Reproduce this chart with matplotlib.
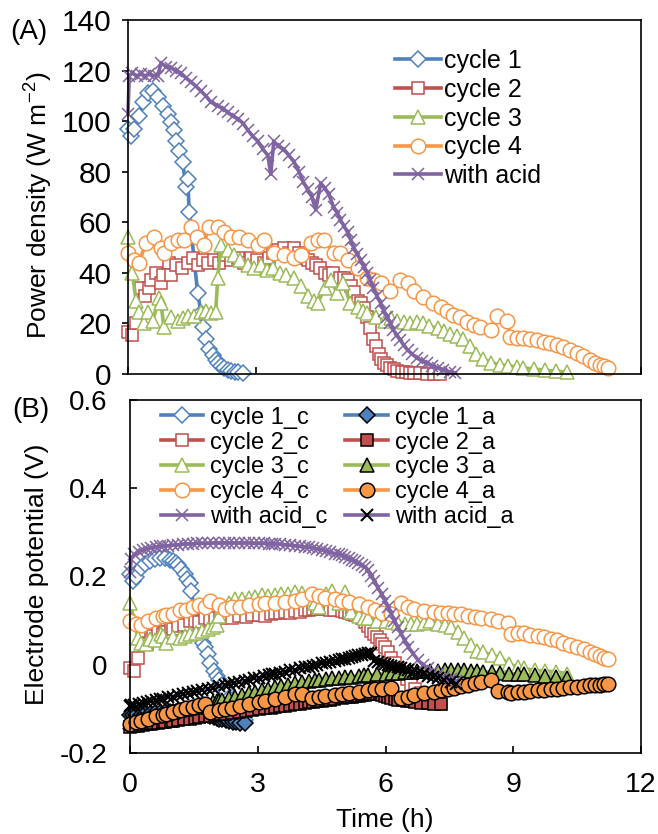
import matplotlib
matplotlib.use('Agg')
import matplotlib.pyplot as plt
from matplotlib.ticker import FuncFormatter

plt.rcParams['font.family'] = ['Liberation Sans', 'DejaVu Sans']
plt.rcParams['mathtext.fontset'] = 'custom'
plt.rcParams['mathtext.rm'] = 'Liberation Sans'

BLUE = '#4F81BD'
RED = '#C0504D'
GREEN = '#9BBB59'
ORANGE = '#F79646'
PURPLE = '#8064A2'

# ---- cycle 1 ----
t1 = [0, 0.07, 0.14, 0.26, 0.35, 0.47, 0.58, 0.70, 0.82, 0.93, 1.0, 1.07, 1.12, 1.19, 1.28, 1.35, 1.40,
      1.43, 1.63, 1.71, 1.75, 1.82, 1.89, 1.98, 2.05, 2.10, 2.17, 2.25, 2.33, 2.42, 2.50, 2.58, 2.69]
p1 = [97, 94, 97, 102, 107.5, 111, 112, 109.5, 106, 103, 99.6, 96.5, 92, 88, 84, 74, 77,
      64, 32, 24, 18.6, 14, 10, 7.5, 5.5, 4.3, 3.0, 2.2, 1.6, 1.1, 0.8, 0.6, 0.4]
c1 = [0.205, 0.19, 0.2, 0.22, 0.228, 0.235, 0.24, 0.242, 0.242, 0.238, 0.235, 0.23, 0.226, 0.218, 0.205,
      0.195, 0.185, 0.168, 0.075, 0.05, 0.04, 0.025, 0.005, -0.015, -0.025, -0.035, -0.045, -0.06,
      -0.075, -0.09, -0.105, -0.115, -0.125]
a1 = [-0.115, -0.115, -0.114, -0.113, -0.112, -0.111, -0.11, -0.109, -0.108, -0.107, -0.106, -0.106,
      -0.105, -0.105, -0.105, -0.105, -0.105, -0.106, -0.11, -0.112, -0.113, -0.115, -0.117, -0.119,
      -0.121, -0.122, -0.124, -0.126, -0.127, -0.129, -0.13, -0.131, -0.132]

# ---- cycle 2 ----
t2 = [0, 0.1, 0.19, 0.3, 0.4, 0.49, 0.54, 0.65, 0.77, 0.82, 0.96, 1.0, 1.12, 1.26, 1.4, 1.52, 1.63,
      1.75, 1.87, 2.0, 2.12, 2.24, 2.4, 2.57, 2.72, 2.87, 3.02, 3.18, 3.3, 3.4, 3.52, 3.64, 3.76, 3.88,
      4.0, 4.1, 4.2, 4.3, 4.4, 4.5, 4.6, 4.7, 4.8, 4.97, 5.05, 5.14, 5.21, 5.28, 5.37, 5.45, 5.52, 5.6,
      5.67, 5.74, 5.8, 5.86, 5.92, 5.98, 6.07, 6.14, 6.22, 6.3, 6.4, 6.5, 6.6, 6.7, 6.84, 7.0, 7.15, 7.3]
p2 = [16.6, 15.4, 20, 34, 31, 34, 37, 40, 36, 39, 44, 39, 43, 42, 44, 46, 43, 45, 44, 45, 44, 47, 45,
      46, 44, 46, 45, 44, 46, 48, 49, 50, 48, 50, 48, 46, 45, 44, 43, 42, 40, 39, 40, 38, 38, 37, 35,
      32.5, 29, 28, 26, 22.5, 18, 14, 11, 8, 6, 4.5, 3.5, 2.5, 1.8, 1.3, 0.9, 0.6, 0.4, 0.3, 0.2, 0.1,
      0.1, 0.05]
c2 = [-0.007, -0.014, 0.016, 0.05, 0.048, 0.062, 0.065, 0.075, 0.07, 0.075, 0.085, 0.08, 0.088, 0.09,
      0.1, 0.1, 0.098, 0.105, 0.103, 0.107, 0.105, 0.11, 0.107, 0.11, 0.108, 0.113, 0.112, 0.11, 0.115,
      0.118, 0.118, 0.12, 0.117, 0.122, 0.12, 0.123, 0.125, 0.126, 0.127, 0.128, 0.127, 0.125, 0.124,
      0.122, 0.12, 0.118, 0.115, 0.113, 0.11, 0.105, 0.098, 0.088, 0.077, 0.07, 0.062, 0.055, 0.047,
      0.04, 0.028, 0.016, 0.004, -0.01, -0.022, -0.032, -0.045, -0.055, -0.065, -0.075, -0.082, -0.088]
a2 = [-0.14, -0.139, -0.138, -0.136, -0.135, -0.134, -0.133, -0.132, -0.13, -0.129, -0.128, -0.127,
      -0.125, -0.124, -0.122, -0.12, -0.119, -0.117, -0.116, -0.114, -0.112, -0.111, -0.109, -0.107,
      -0.105, -0.103, -0.101, -0.099, -0.097, -0.096, -0.094, -0.093, -0.091, -0.09, -0.088, -0.087,
      -0.085, -0.084, -0.083, -0.082, -0.08, -0.079, -0.078, -0.075, -0.074, -0.073, -0.072, -0.071,
      -0.07, -0.069, -0.068, -0.067, -0.066, -0.066, -0.066, -0.067, -0.068, -0.07, -0.073, -0.075,
      -0.077, -0.079, -0.08, -0.082, -0.083, -0.084, -0.086, -0.087, -0.089, -0.09]

# ---- cycle 3 ----
t3 = [0, 0.1, 0.19, 0.26, 0.37, 0.47, 0.58, 0.72, 0.77, 0.84, 1.0, 1.17, 1.28, 1.4, 1.54, 1.7, 1.82,
      1.94, 2.05, 2.1, 2.17, 2.33, 2.47, 2.62, 2.8, 2.94, 3.1, 3.25, 3.4, 3.55, 3.7, 3.88, 4.04, 4.2,
      4.34, 4.44, 4.6, 4.74, 4.9, 5.04, 5.2, 5.37, 5.5, 5.6, 5.8, 6.0, 6.15, 6.3, 6.45, 6.6, 6.75, 6.9,
      7.05, 7.24, 7.4, 7.54, 7.7, 7.84, 8.0, 8.15, 8.3, 8.5, 8.7, 8.9, 9.1, 9.25, 9.5, 9.75, 10.0, 10.27]
p3 = [54, 40, 29, 24.5, 20, 24.5, 21, 30, 28, 18.6, 22.5, 21, 22, 23, 23, 24.5, 25, 24, 24.5, 38, 51,
      49, 47, 45, 43, 42, 43, 41, 42, 40, 39, 38, 35, 31, 29, 28, 34, 37, 32, 36, 28, 26.5, 25, 24,
      22.5, 21, 22, 21, 20.5, 20, 20.5, 20, 19, 18, 17, 16, 15, 14, 11, 8, 6, 4.5, 3.6, 3.2, 2.8, 2.4,
      2.0, 1.5, 1.1, 0.8]
c3 = [0.14, 0.1, 0.06, 0.05, 0.048, 0.058, 0.055, 0.07, 0.066, 0.05, 0.062, 0.06, 0.065, 0.07, 0.072,
      0.077, 0.08, 0.085, 0.089, 0.11, 0.13, 0.14, 0.148, 0.15, 0.152, 0.154, 0.157, 0.156, 0.158, 0.16,
      0.16, 0.165, 0.163, 0.15, 0.14, 0.13, 0.16, 0.168, 0.14, 0.165, 0.12, 0.11, 0.107, 0.105, 0.1,
      0.1, 0.098, 0.095, 0.093, 0.092, 0.093, 0.095, 0.1, 0.093, 0.09, 0.085, 0.075, 0.06, 0.045,
      0.032, 0.028, 0.022, 0.016, 0.002, -0.005, -0.008, -0.013, -0.014, -0.016, -0.02]
a3 = [-0.13, -0.128, -0.126, -0.124, -0.122, -0.119, -0.117, -0.114, -0.112, -0.111, -0.107, -0.103,
      -0.101, -0.098, -0.095, -0.091, -0.088, -0.085, -0.083, -0.082, -0.08, -0.076, -0.073, -0.069,
      -0.065, -0.062, -0.058, -0.055, -0.051, -0.048, -0.045, -0.041, -0.038, -0.036, -0.035, -0.034,
      -0.032, -0.031, -0.029, -0.028, -0.027, -0.025, -0.024, -0.023, -0.022, -0.02, -0.019, -0.018,
      -0.017, -0.016, -0.015, -0.015, -0.014, -0.014, -0.013, -0.013, -0.013, -0.013, -0.014, -0.015,
      -0.016, -0.017, -0.018, -0.02, -0.021, -0.022, -0.024, -0.026, -0.028, -0.03]

# ---- cycle 4 ----
t4 = [0, 0.14, 0.26, 0.42, 0.61, 0.77, 0.84, 1.0, 1.17, 1.31, 1.47, 1.62, 1.77, 1.89, 2.1, 2.24, 2.4,
      2.59, 2.8, 3.04, 3.18, 3.41, 3.65, 3.88, 4.05, 4.27, 4.45, 4.58, 4.81, 4.97, 5.14, 5.37, 5.6,
      5.75, 5.91, 6.14, 6.37, 6.54, 6.68, 6.91, 7.14, 7.31, 7.47, 7.61, 7.77, 7.94, 8.1, 8.24, 8.48,
      8.64, 8.87, 8.94, 9.1, 9.25, 9.4, 9.57, 9.72, 9.88, 10.03, 10.18, 10.34, 10.5, 10.65, 10.81,
      10.92, 11.04, 11.14, 11.23]
p4 = [48, 45, 44, 52, 54, 50, 48, 52, 53, 53, 58, 54, 51, 58, 58, 56, 54, 54, 53, 51, 53, 48, 47, 46,
      47, 52, 53, 53, 48, 48, 45, 42, 38, 37, 36, 33, 37, 36, 33, 30.5, 28, 26.5, 25, 23.5, 22.5, 20.6,
      19.5, 18.6, 17.4, 23, 21, 14.6, 14.4, 14.2, 13.8, 13.4, 12.8, 12.2, 11.5, 10.7, 9.5, 8.3, 7, 5.5,
      4.5, 3.6, 3, 2.4]
c4 = [0.1, 0.093, 0.09, 0.1, 0.105, 0.11, 0.112, 0.116, 0.123, 0.125, 0.13, 0.135, 0.13, 0.145, 0.135,
      0.127, 0.13, 0.132, 0.135, 0.137, 0.139, 0.14, 0.142, 0.145, 0.15, 0.16, 0.155, 0.152, 0.148,
      0.145, 0.142, 0.138, 0.13, 0.125, 0.118, 0.115, 0.139, 0.13, 0.127, 0.122, 0.119, 0.118, 0.117,
      0.116, 0.114, 0.111, 0.109, 0.107, 0.103, 0.1, 0.095, 0.07, 0.073, 0.072, 0.068, 0.066, 0.062,
      0.059, 0.055, 0.05, 0.045, 0.04, 0.035, 0.03, 0.025, 0.02, 0.016, 0.013]
a4 = [-0.134, -0.13, -0.127, -0.122, -0.117, -0.113, -0.111, -0.107, -0.103, -0.099, -0.095, -0.091,
      -0.088, -0.106, -0.103, -0.1, -0.097, -0.094, -0.09, -0.085, -0.082, -0.077, -0.072, -0.067,
      -0.066, -0.076, -0.073, -0.071, -0.068, -0.066, -0.064, -0.061, -0.058, -0.056, -0.055, -0.052,
      -0.075, -0.072, -0.069, -0.065, -0.061, -0.058, -0.055, -0.052, -0.049, -0.045, -0.042, -0.04,
      -0.034, -0.059, -0.062, -0.063, -0.062, -0.061, -0.06, -0.058, -0.057, -0.055, -0.054, -0.052,
      -0.051, -0.05, -0.048, -0.047, -0.046, -0.045, -0.044, -0.043]

# ---- with acid ----
ta = [0, 0.03, 0.1, 0.2, 0.3, 0.4, 0.5, 0.6, 0.7, 0.77, 0.9, 1.0, 1.12, 1.24, 1.36, 1.47, 1.58, 1.7,
      1.82, 1.94, 2.1, 2.22, 2.33, 2.45, 2.57, 2.7, 2.8, 2.92, 3.04, 3.15, 3.27, 3.34, 3.41, 3.52, 3.64,
      3.76, 3.88, 4.0, 4.1, 4.2, 4.3, 4.39, 4.51, 4.6, 4.7, 4.81, 4.9, 4.97, 5.05, 5.14, 5.21, 5.28,
      5.36, 5.44, 5.52, 5.6, 5.67, 5.74, 5.82, 5.91, 5.99, 6.07, 6.14, 6.21, 6.29, 6.37, 6.45, 6.54,
      6.65, 6.77, 6.88, 7.0, 7.12, 7.24, 7.38, 7.54, 7.66]
pa = [103, 118, 119, 118, 118.5, 118, 118.5, 118, 118, 123, 121.5, 121, 120, 119, 117, 115.5, 114, 112,
      110, 107.5, 106, 105, 103.5, 102, 101, 99, 96.5, 94, 92, 89, 86.5, 79, 92, 90, 89, 86.5, 84, 80,
      76, 73, 70, 65, 75.5, 73.5, 71, 66, 63.5, 61, 58.5, 56, 53, 50, 47.5, 45, 42.5, 40, 37, 34, 31,
      28, 25, 22.5, 20, 17.4, 15.4, 13.4, 11.4, 9.5, 7.8, 6.3, 5.2, 4.3, 3.3, 2.4, 1.5, 0.8, 0.5]
ca = [0.21, 0.24, 0.25, 0.256, 0.26, 0.263, 0.265, 0.267, 0.268, 0.269, 0.27, 0.271, 0.272, 0.273,
      0.274, 0.274, 0.275, 0.275, 0.275, 0.276, 0.276, 0.276, 0.276, 0.276, 0.276, 0.276, 0.276, 0.275,
      0.275, 0.275, 0.274, 0.274, 0.274, 0.273, 0.272, 0.271, 0.27, 0.268, 0.267, 0.266, 0.265, 0.263,
      0.26, 0.258, 0.255, 0.252, 0.25, 0.248, 0.245, 0.241, 0.238, 0.235, 0.231, 0.227, 0.222, 0.214,
      0.202, 0.19, 0.175, 0.16, 0.145, 0.13, 0.115, 0.1, 0.085, 0.07, 0.055, 0.04, 0.025, 0.01, 0.0,
      -0.008, -0.015, -0.022, -0.028, -0.033, -0.036]
aa = [-0.093, -0.092, -0.091, -0.089, -0.087, -0.085, -0.082, -0.08, -0.078, -0.077, -0.074, -0.072,
      -0.069, -0.067, -0.064, -0.062, -0.06, -0.057, -0.054, -0.052, -0.048, -0.046, -0.044, -0.041,
      -0.039, -0.036, -0.034, -0.031, -0.029, -0.026, -0.024, -0.022, -0.021, -0.018, -0.016, -0.013,
      -0.011, -0.008, -0.006, -0.004, -0.002, 0.0, 0.003, 0.005, 0.007, 0.009, 0.011, 0.012, 0.014,
      0.016, 0.018, 0.019, 0.021, 0.022, 0.024, 0.026, 0.027, 0.008, 0.006, 0.004, 0.002, 0.0, -0.002,
      -0.004, -0.006, -0.008, -0.01, -0.013, -0.016, -0.019, -0.022, -0.025, -0.028, -0.031, -0.035,
      -0.04, -0.043]

names = ['cycle 1', 'cycle 2', 'cycle 3', 'cycle 4', 'with acid']
times = [t1, t2, t3, t4, ta]
power = [p1, p2, p3, p4, pa]
cath = [c1, c2, c3, c4, ca]
anod = [a1, a2, a3, a4, aa]
colors = [BLUE, RED, GREEN, ORANGE, PURPLE]
markers = ['D', 's', '^', 'o', 'x']
msizes = [8.5, 8.5, 10, 10.5, 9]

LW = 2.6
fig = plt.figure(figsize=(6.58, 8.34), dpi=100)
axA = fig.add_axes([128 / 658, 1 - 374 / 834, 513 / 658, 354 / 834])
axB = fig.add_axes([130 / 658, 1 - 753 / 834, 511 / 658, 353 / 834])

# panel A
for t, y, col, mk, ms, nm in zip(times, power, colors, markers, msizes, names):
    axA.plot(t, y, color=col, lw=LW, marker=mk, ms=ms, mfc='white', mec=col, mew=1.1,
             label=nm, clip_on=False)

# panel B
hc, ha = [], []
for t, yc, ya, col, mk, ms, nm in zip(times, cath, anod, colors, markers, msizes, names):
    l1, = axB.plot(t, yc, color=col, lw=LW, marker=mk, ms=ms, mfc='white', mec=col, mew=1.1,
                   label=nm + '_c', clip_on=False)
    if mk == 'x':
        l2, = axB.plot(t, ya, color=col, lw=LW, marker=mk, ms=ms, mec='black', mew=1.5,
                       label=nm + '_a', clip_on=False)
    else:
        l2, = axB.plot(t, ya, color=col, lw=LW, marker=mk, ms=ms, mfc=col, mec='black', mew=1.1,
                       label=nm + '_a', clip_on=False)
    hc.append(l1)
    ha.append(l2)

for ax in (axA, axB):
    ax.set_xlim(0, 12)
    ax.set_xticks([0, 3, 6, 9, 12])
    for s in ax.spines.values():
        s.set_linewidth(1.2)

axA.set_ylim(0, 140)
axA.set_yticks(range(0, 141, 20))
axA.tick_params(axis='y', direction='out', length=4, width=1.2, labelsize=21.5, pad=8)
axA.tick_params(axis='x', direction='in', length=5, width=1.2, labelbottom=False)

axB.set_ylim(-0.2, 0.6)
axB.set_yticks([-0.2, 0, 0.2, 0.4, 0.6])
axB.yaxis.set_major_formatter(FuncFormatter(lambda v, p: '0' if abs(v) < 1e-9 else '%.1f' % v))
axB.tick_params(axis='y', direction='in', length=5, width=1.2, labelsize=20, pad=16)
axB.tick_params(axis='x', direction='in', length=5, width=1.2, labelsize=20.5, pad=14)

axA.legend(loc='upper left', bbox_to_anchor=(0.52, 0.918), frameon=False, fontsize=18,
           numpoints=1, handlelength=1.85, handletextpad=0.12, labelspacing=0.19,
           borderpad=0, borderaxespad=0)
axB.legend(hc + ha, [h.get_label() for h in hc + ha], ncol=2, loc='upper left',
           bbox_to_anchor=(0.06, 0.981), frameon=False, fontsize=17, numpoints=1,
           handlelength=1.8, handletextpad=0.3, labelspacing=0.12, columnspacing=0.75,
           borderpad=0, borderaxespad=0)

fig.text(38 / 658, 1 - 205 / 834, 'Power density (W m$^{\\mathregular{-2}}$)', rotation=90,
         ha='center', va='center', fontsize=19)
fig.text(37 / 658, 1 - 574 / 834, 'Electrode potential (V)', rotation=90,
         ha='center', va='center', fontsize=19)
fig.text(385 / 658, 1 - 820 / 834, 'Time (h)', ha='center', va='center', fontsize=19)
fig.text(29 / 658, 1 - 32 / 834, '(A)', ha='center', va='center', fontsize=20)
fig.text(31 / 658, 1 - 410 / 834, '(B)', ha='center', va='center', fontsize=20)

fig.savefig('out.png', dpi=100)
